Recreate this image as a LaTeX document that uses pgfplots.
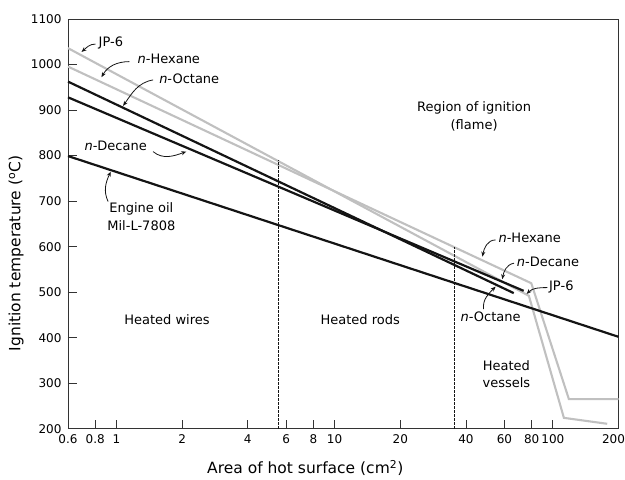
\documentclass[border=0pt]{standalone}
\usepackage{fontspec}
\setmainfont{DejaVu Sans}
\usepackage{pgfplots}
\pgfplotsset{compat=1.18}
\usetikzlibrary{arrows.meta}
\definecolor{lgray}{RGB}{192,192,192}
\definecolor{ink}{RGB}{20,20,20}
\newcommand\lf{\fontsize{13}{17.5}\selectfont}
\begin{document}
\begin{tikzpicture}
\begin{axis}[
 scale only axis, width=550.5pt, height=409.8pt,
 xmode=log, xmin=0.6, xmax=200, ymin=200, ymax=1100,
 xtick={0.6,0.8,1,2,4,6,8,10,20,40,60,80,100,200},
 xticklabels={0.6,0.8,1,2,4,6,8,10,20,40,60,80,100,{\hspace*{-10pt}200}},
 xminorticks=false,
 ytick={200,300,...,1100},
 tick align=inside,
 tick pos=left,
 major tick length=9pt,
 axis line style={black!80, line width=0.9pt},
 tick style={black!80, line width=0.9pt},
 tick label style={font=\fontsize{12}{14}\selectfont},
 xticklabel style={yshift=-2pt},
 yticklabel style={xshift=-3pt},
 /pgf/number format/assume math mode=true,
 /pgf/number format/1000 sep={},
 xlabel={Area of hot surface (cm\textsuperscript{2})},
 ylabel={Ignition temperature (\textsuperscript{o}C)},
 label style={font=\fontsize{15.5}{18}\selectfont},
 xlabel style={at={(axis description cs:0.431,-0.095)}, anchor=center},
 ylabel style={at={(axis description cs:-0.0945,0.428)}, anchor=center},
 clip=false,
]
% tick marks (inside, bottom and left)
\pgfplotsinvokeforeach{0.8,1,2,4,6,8,10,20,40,60,80,100}{
  \draw[black!80, line width=0.9pt] (axis cs:#1,200) -- ++(0pt,9pt);
}
\pgfplotsinvokeforeach{300,400,500,600,700,800,900,1000}{
  \draw[black!80, line width=0.9pt] (axis cs:0.6,#1) -- ++(9pt,0pt);
}
% gray series
\addplot[lgray, line width=2.1pt] coordinates {(0.6,1036) (77.7,492) (112.4,224) (177.5,211)}; % JP-6
\addplot[lgray, line width=2.1pt] coordinates {(0.6,995.5) (79.7,519.7) (118.5,265) (200,265)}; % n-Hexane
% black series
\addplot[ink, line width=2.2pt] coordinates {(0.6,962.5) (66.2,498)}; % n-Octane
\addplot[ink, line width=2.2pt] coordinates {(0.6,928) (73.5,503)}; % n-Decane
\addplot[ink, line width=2.2pt] coordinates {(0.6,799) (200,402)}; % Engine oil
% dividers
\addplot[ink, line width=0.7pt, dash pattern=on 2.5pt off 1.5pt] coordinates {(5.53,200) (5.53,790)};
\addplot[ink, line width=0.7pt, dash pattern=on 2.5pt off 1.5pt] coordinates {(35.3,200) (35.3,600)};

% region labels
\node[font=\lf, align=center] at (axis cs:43.6,885.6) {Region of ignition\\(flame)};
\node[font=\lf] at (axis cs:1.706,439.1) {Heated wires};
\node[font=\lf] at (axis cs:13.11,439.1) {Heated rods};
\node[font=\lf, align=center] at (axis cs:61.3,320.5) {Heated\\vessels};

% left annotations
\tikzset{ann/.style={draw=ink, line width=0.8pt, -{Stealth[length=5pt,width=4pt]}}}
\node[font=\lf, anchor=west, inner sep=1pt] at (axis cs:0.819,1046.8) {JP-6};
\draw[ann] (axis cs:0.802,1045) to[out=180,in=40] (axis cs:0.692,1027.7);
\node[font=\lf, anchor=west, inner sep=1pt] at (axis cs:1.235,1011.7) {\textit{n}-Hexane};
\draw[ann] (axis cs:1.147,1006.4) to[out=180,in=60] (axis cs:0.854,972.2);
\node[font=\lf, anchor=west, inner sep=1pt] at (axis cs:1.552,968.4) {\textit{n}-Octane};
\draw[ann] (axis cs:1.472,966.2) to[out=190,in=55] (axis cs:1.073,909.1);
\node[font=\lf, anchor=east, inner sep=1pt] at (axis cs:1.396,822) {\textit{n}-Decane};
\draw[ann] (axis cs:1.472,808.8) to[out=-40,in=200] (axis cs:2.09,808.8);
\node[font=\lf, align=center] at (axis cs:1.301,666) {Engine oil\\Mil-L-7808};
\draw[ann] (axis cs:0.916,699) to[out=115,in=245] (axis cs:0.942,764.8);

% right annotations
\node[font=\lf, anchor=west, inner sep=1pt] at (axis cs:55.7,618.6) {\textit{n}-Hexane};
\draw[ann] (axis cs:54.7,614.8) to[out=180,in=80] (axis cs:47.6,578.1);
\node[font=\lf, anchor=west, inner sep=1pt] at (axis cs:67.6,567.2) {\textit{n}-Decane};
\draw[ann] (axis cs:66.4,563.7) to[out=190,in=80] (axis cs:58.7,528.5);
\node[font=\lf, anchor=west, inner sep=1pt] at (axis cs:95.0,512.3) {JP-6};
\draw[ann] (axis cs:94.4,510.1) to[out=180,in=45] (axis cs:75.9,496.2);
\node[font=\lf] at (axis cs:51.9,446.4) {\textit{n}-Octane};
\draw[ann] (axis cs:48.1,462.6) to[out=95,in=225] (axis cs:54.7,512.3);
\end{axis}
\pgfresetboundingbox
\path (current axis.south west) +(-68pt,-51pt);
\path (current axis.north east) +(6.5pt,19pt);
\end{tikzpicture}
\end{document}
